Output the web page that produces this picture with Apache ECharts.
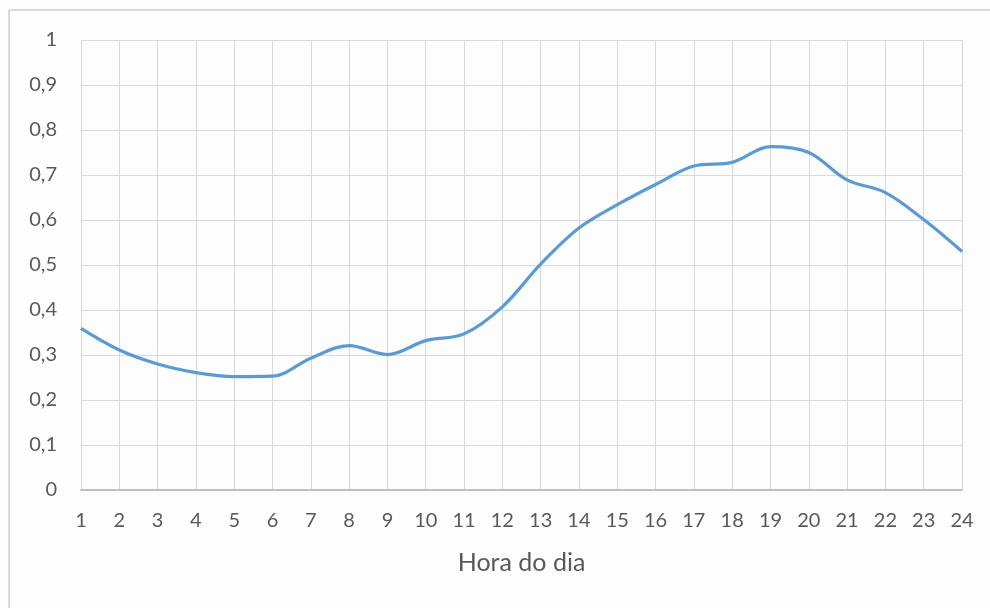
<!DOCTYPE html>
<html>
<head>
<meta charset="utf-8">
<script src="https://cdn.jsdelivr.net/npm/echarts@6/dist/echarts.min.js"></script>
<style>
  html, body { margin: 0; padding: 0; background: #fdfdfd; }
  #chart { width: 990px; height: 608px; }
</style>
</head>
<body>
<div id="chart"></div>
<script>
// Hours of the day (x categories)
const hours = ['1','2','3','4','5','6','7','8','9','10','11','12','13','14','15','16','17','18','19','20','21','22','23','24'];
// Hourly profile values
const values = [0.359, 0.311, 0.280, 0.261, 0.252, 0.253, 0.293, 0.321, 0.301, 0.332, 0.347, 0.407, 0.502, 0.582, 0.634, 0.679, 0.720, 0.728, 0.763, 0.750, 0.689, 0.661, 0.601, 0.530];
// Y-axis range
const yMin = 0, yMax = 1, yStep = 0.1;

const fontFamily = 'Lato, "Open Sans", sans-serif';
const chart = echarts.init(document.getElementById('chart'), null, { renderer: 'canvas' });

chart.setOption({
  backgroundColor: '#fdfdfd',
  animation: false,
  grid: { left: 81, right: 28, top: 40, bottom: 118, containLabel: false },
  graphic: [
    { type: 'line', shape: { x1: 9, y1: 10, x2: 9, y2: 608 }, style: { stroke: '#d9d9d9', lineWidth: 2 } },
    { type: 'line', shape: { x1: 9, y1: 10, x2: 990, y2: 10 }, style: { stroke: '#d9d9d9', lineWidth: 2 } }
  ],
  xAxis: {
    type: 'category',
    data: hours,
    boundaryGap: false,
    name: 'Hora do dia',
    nameLocation: 'middle',
    nameGap: 60,
    nameTextStyle: { color: '#595959', fontSize: 25, fontFamily: fontFamily },
    axisLine: { show: true, lineStyle: { color: '#bfbfbf', width: 2 } },
    axisTick: { show: false },
    axisLabel: { color: '#595959', fontSize: 20, fontFamily: fontFamily, margin: 21, interval: 0 },
    splitLine: { show: true, interval: 0, lineStyle: { color: '#d9d9d9', width: 1 } }
  },
  yAxis: {
    type: 'value',
    min: yMin,
    max: yMax,
    interval: yStep,
    axisLine: { show: false },
    axisTick: { show: false },
    axisLabel: {
      color: '#595959', fontSize: 20, fontFamily: fontFamily, margin: 24,
      formatter: v => (Math.round(v * 10) / 10).toString().replace('.', ',')
    },
    splitLine: { show: true, lineStyle: { color: '#d9d9d9', width: 1 } }
  },
  series: [{
    type: 'line',
    data: values,
    smooth: 0.35,
    symbol: 'none',
    lineStyle: { color: '#5b9bd5', width: 3.2 },
    itemStyle: { color: '#5b9bd5' }
  }]
});
</script>
</body>
</html>
